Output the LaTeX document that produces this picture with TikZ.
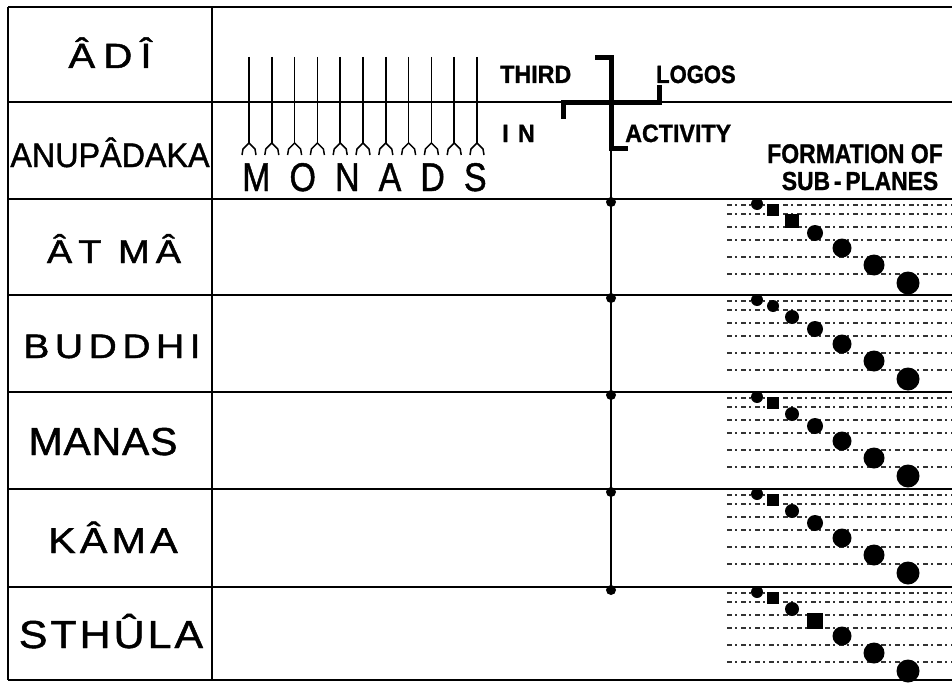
\documentclass[tikz,border=0pt]{standalone}
\usepackage{fontspec}
\setmainfont{Liberation Sans}
\newcommand\plabel[4]{\scalebox{#2}[1]{\fontsize{#1}{#1}\selectfont\addfontfeatures{LetterSpace=#3,FakeBold=1.2}#4}}
\newcommand\mydot[4]{%
  \if#1s\fill (#2-#4,#3-#4) rectangle (#2+#4,#3+#4);%
  \else\fill (#2,#3) circle (#4pt);\fi}
\newcommand\rowdots[4]{%
  \fill (757,#1+5) circle (6pt);
  \mydot{#2}{773}{#1+11}{6}
  \mydot{#3}{792}{#1+22}{7}
  \mydot{#4}{815}{#1+34}{8}
  \fill (842,#1+49) circle (9.5pt);
  \fill (874,#1+66) circle (10.5pt);
  \fill (908,#1+84) circle (11.5pt);}
\begin{document}
\begin{tikzpicture}[x=1pt,y=-1pt,
  grid/.style={line width=2.4pt},
  crossline/.style={line width=5pt, line join=miter, line cap=rect},
  axisline/.style={line width=2pt},
  monad/.style={line width=1.5pt},
  subline/.style={line width=1.1pt, dash pattern=on 5pt off 3pt on 2pt off 4pt, black!80},
  lbl/.style={inner sep=0pt, anchor=base},
  smalltxt/.style={inner sep=0pt}]
\useasboundingbox (0,0) rectangle (952,682);
\fill[white] (0,0) rectangle (952,682);

% grid
\foreach \y in {7,102,199,295,392,489,587,680} \draw[grid] (8,\y) -- (952,\y);
\draw[grid] (8,7) -- (8,680);
\draw[grid] (212,7) -- (212,680);

% plane labels
\node[lbl] (adi) at (110,68) {\plabel{35}{1.15}{20}{ÂDÎ}};
\node[lbl] (anu) at (110,167) {\plabel{34}{0.95}{0}{ANUPÂDAKA}};
\node[lbl] (atma) at (114,263) {\plabel{33}{1.15}{16}{ÂT MÂ}};
\node[lbl] (buddhi) at (112,358) {\plabel{34}{1.15}{14}{BUDDHI}};
\node[lbl] (manas) at (103,455) {\plabel{39}{1.05}{2}{MANAS}};
\node[lbl] (kama) at (113,553) {\plabel{36}{1.15}{10}{KÂMA}};
\node[lbl] (sthula) at (111,648) {\plabel{39}{1.1}{7}{STHÛLA}};

% monads
\foreach \i in {0,...,10} {
  \pgfmathsetmacro\x{249+22.8*\i}
  \draw[monad] (\x,57) -- (\x,143);
  \draw[monad, line join=round] (\x-7,155) -- (\x-6,149) -- (\x,143) -- (\x+6,149) -- (\x+7,155);
}
\node[inner sep=0pt, anchor=base west] (monads) at (242,191) {\plabel{40}{0.85}{56}{MONADS}};

% third logos
\node[smalltxt, anchor=base west] (third) at (500,83) {\plabel{25}{0.93}{0}{\bfseries THIRD}};
\node[smalltxt, anchor=base west] (logos) at (656,83) {\plabel{25}{0.88}{0}{\bfseries LOGOS}};
\node[smalltxt, anchor=base west] (in) at (502,142) {\plabel{25}{0.93}{40}{\bfseries IN}};
\node[smalltxt, anchor=base west] (activity) at (625,142) {\plabel{25}{0.93}{0}{\bfseries ACTIVITY}};
\draw[crossline] (597,58) -- (611,58) -- (611,148) -- (625,148);
\draw[crossline] (563,117) -- (563,103) -- (659,103) -- (659,88);
\draw[axisline] (611,148) -- (611,587);
\foreach \y in {199,295,392,489,587} \fill (611,\y+3) circle (5pt);

% formation of sub-planes
\node[smalltxt, anchor=base] (formation) at (855,163) {\plabel{27}{0.85}{0}{\bfseries FORMATION OF}};
\node[smalltxt, anchor=base] (subplanes) at (860,190) {\plabel{26}{0.88}{0}{\bfseries SUB\,-\,PLANES}};

\foreach \t in {199,295,392,489,587} {
  \foreach \o in {6,15,28,41,58,75} \draw[subline] (727,\t+\o) -- (952,\t+\o);
}
\rowdots{199}{s}{s}{c}
\rowdots{295}{c}{c}{c}
\rowdots{392}{s}{c}{c}
\rowdots{489}{s}{c}{c}
\rowdots{587}{s}{c}{s}
\end{tikzpicture}
\end{document}
